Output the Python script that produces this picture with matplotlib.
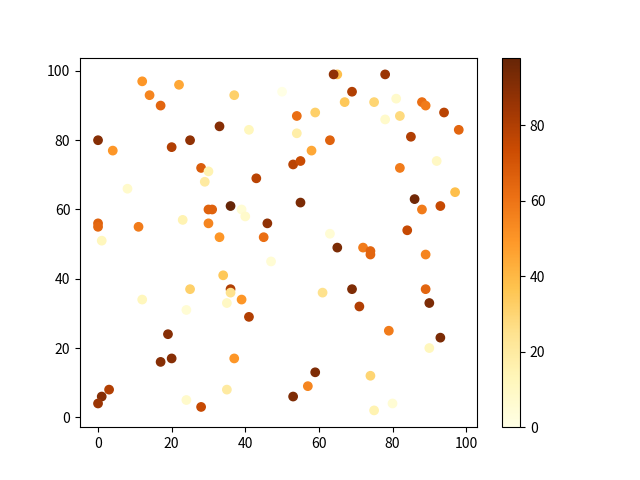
import matplotlib.pyplot as plt
import numpy as np

plt.rcParams['font.family'] = ['Noto Sans CJK SC', 'DejaVu Sans']

# point positions and colour values
x = [12, 22, 14, 17, 37, 50, 33, 41, 0, 4, 20, 25, 28, 30, 29, 43, 8, 30, 31, 36,
     39, 40, 46, 0, 0, 11, 23, 30, 33, 45, 1,
     65, 64, 78, 69, 67, 75, 81, 88, 89, 94, 54, 59, 78, 82, 98, 54, 63, 85, 58,
     53, 55, 82, 92, 55, 97, 86, 88, 93, 84, 63,
     47, 34, 25, 36, 36, 35, 39, 12, 24, 41, 19, 17, 20, 37, 3, 1, 0, 35, 24, 28,
     65, 72, 74, 74, 89, 61, 69, 71, 89, 90, 79, 93, 90, 59, 57, 53, 74, 80, 75]
y = [97, 96, 93, 90, 93, 94, 84, 83, 80, 77, 78, 80, 72, 71, 68, 69, 66, 60, 60, 61,
     60, 58, 56, 56, 55, 55, 57, 56, 52, 52, 51,
     99, 99, 99, 94, 91, 91, 92, 91, 90, 88, 87, 88, 86, 87, 83, 82, 80, 81, 77,
     73, 74, 72, 74, 62, 65, 63, 60, 61, 54, 53,
     45, 41, 37, 37, 36, 33, 34, 34, 31, 29, 24, 16, 17, 17, 8, 6, 4, 8, 5, 3,
     49, 49, 48, 47, 47, 36, 37, 32, 37, 33, 25, 23, 20, 13, 9, 6, 12, 4, 2]
c = [50, 45, 55, 65, 32, 0, 90, 12, 90, 50, 80, 88, 68, 15, 20, 78, 8, 66, 66, 98,
     5, 8, 88, 66, 64, 58, 15, 55, 50, 62, 12,
     38, 88, 85, 80, 35, 30, 8, 62, 58, 78, 62, 32, 8, 28, 65, 18, 66, 80, 45,
     78, 74, 58, 10, 93, 38, 95, 58, 75, 75, 5,
     5, 35, 32, 80, 25, 10, 50, 12, 5, 80, 90, 90, 90, 50, 80, 90, 85, 20, 8, 75,
     93, 58, 65, 65, 55, 25, 92, 80, 65, 93, 58, 93, 12, 92, 55, 92, 30, 5, 15]

fig, ax = plt.subplots(figsize=(6.4, 4.8), dpi=100)
sc = ax.scatter(x, y, c=c, cmap='YlOrBr')
fig.colorbar(sc)
fig.savefig('out.png')
